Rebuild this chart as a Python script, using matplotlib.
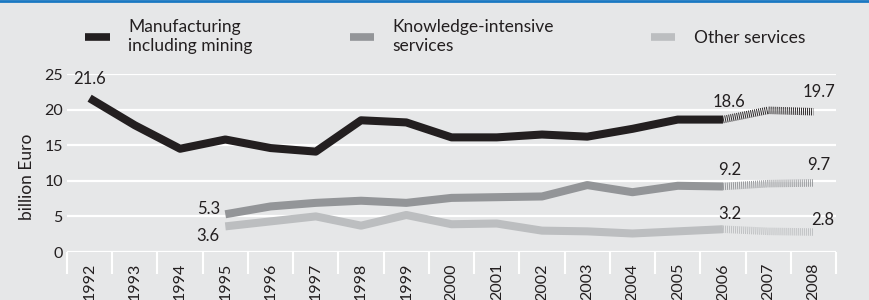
import numpy as np
import matplotlib.pyplot as plt
from matplotlib.lines import Line2D

plt.rcParams['font.family'] = ['Lato', 'DejaVu Sans']

years = [str(y) for y in range(1992, 2009)]
series_names = ['Manufacturing\nincluding mining', 'Knowledge-intensive\nservices', 'Other services']
colors = ['#231f20', '#939598', '#bcbec0']

# actual values 1992-2006, projections 2006-2008
manuf = [21.6, 17.8, 14.5, 15.8, 14.6, 14.1, 18.5, 18.2, 16.1, 16.1, 16.5, 16.2, 17.3, 18.6, 18.6]
manuf_proj = [18.6, 19.9, 19.7]
knowl = [5.3, 6.4, 6.9, 7.2, 6.9, 7.6, 7.7, 7.8, 9.4, 8.4, 9.3, 9.2]     # from 1995
knowl_proj = [9.2, 9.6, 9.7]
other = [3.6, 4.3, 5.0, 3.7, 5.2, 3.9, 4.0, 3.0, 2.9, 2.6, 2.9, 3.2]     # from 1995
other_proj = [3.2, 2.9, 2.8]

bg = '#e6e7e8'
txt_c = '#231f20'
fig = plt.figure(figsize=(8.7, 3.0), dpi=100, facecolor=bg)
ax = fig.add_axes([0.077, 0.16, 0.884, 0.5933], facecolor=bg)

x_m = np.arange(0, 15)
x_k = np.arange(3, 15)
x_p = np.arange(14, 17)

lw = 5.8
ax.plot(x_m, manuf, color=colors[0], lw=lw, solid_capstyle='butt', zorder=3)
ax.plot(x_k, knowl, color=colors[1], lw=lw, solid_capstyle='butt', zorder=3)
ax.plot(x_k, other, color=colors[2], lw=lw, solid_capstyle='butt', zorder=3)
for proj, c in zip([manuf_proj, knowl_proj, other_proj], colors):
    ax.plot(x_p, proj, color=c, lw=5.4, dashes=(0.12, 0.15), dash_capstyle='butt', zorder=3)

# value labels
def lab(x, y, txt, dx=0, dy=0, ha='center'):
    ax.annotate(txt, (x, y), xytext=(dx, dy), textcoords='offset points',
                ha=ha, va='center', fontsize=12, color=txt_c, zorder=4)

lab(0, manuf[0], '21.6', dy=14)
lab(3, knowl[0], '5.3', dx=-4, dy=4, ha='right')
lab(3, other[0], '3.6', dx=-4, dy=-7, ha='right')
lab(14, manuf[-1], '18.6', dx=4, dy=13)
lab(16, manuf_proj[-1], '19.7', dx=4, dy=14)
lab(14, knowl[-1], '9.2', dx=5, dy=12)
lab(16, knowl_proj[-1], '9.7', dx=4, dy=13)
lab(14, other[-1], '3.2', dx=5, dy=11)
lab(16, other_proj[-1], '2.8', dx=7, dy=9)

ax.set_xlim(-0.5, 16.5)
ax.set_ylim(0, 25)
ax.set_yticks([0, 5, 10, 15, 20, 25])
ax.yaxis.grid(True, color='white', lw=1.6)
ax.set_axisbelow(True)
for s in ax.spines.values():
    s.set_visible(False)

ax.set_xticks(np.arange(17))
ax.set_xticklabels(years, rotation=90, fontsize=11.5, va='top')
ax.set_xticks(np.arange(-0.5, 17, 1), minor=True)
ax.tick_params(axis='x', which='major', length=0, pad=8, colors=txt_c)
ax.tick_params(axis='x', which='minor', length=16, width=1.5, color='white')
ax.tick_params(axis='y', length=0, pad=3, labelsize=11.5, colors=txt_c)
ax.set_ylabel('billion Euro', fontsize=12.5, color=txt_c)
ax.yaxis.set_label_coords(-0.042, 0.42)

handles = [Line2D([0], [0], color=c, lw=5.5, solid_capstyle='butt') for c in colors]
fig.legend(handles, series_names, loc='upper left', bbox_to_anchor=(0.088, 0.965),
           ncol=3, frameon=False, fontsize=12.5, handlelength=1.4, handletextpad=1.06,
           columnspacing=5.6, borderpad=0, labelspacing=0.3, labelcolor=txt_c)

fig.add_artist(Line2D([0, 1], [0.996, 0.996], color='#1a78c2', lw=2, transform=fig.transFigure))

plt.savefig('out.png', dpi=100, facecolor=bg)
